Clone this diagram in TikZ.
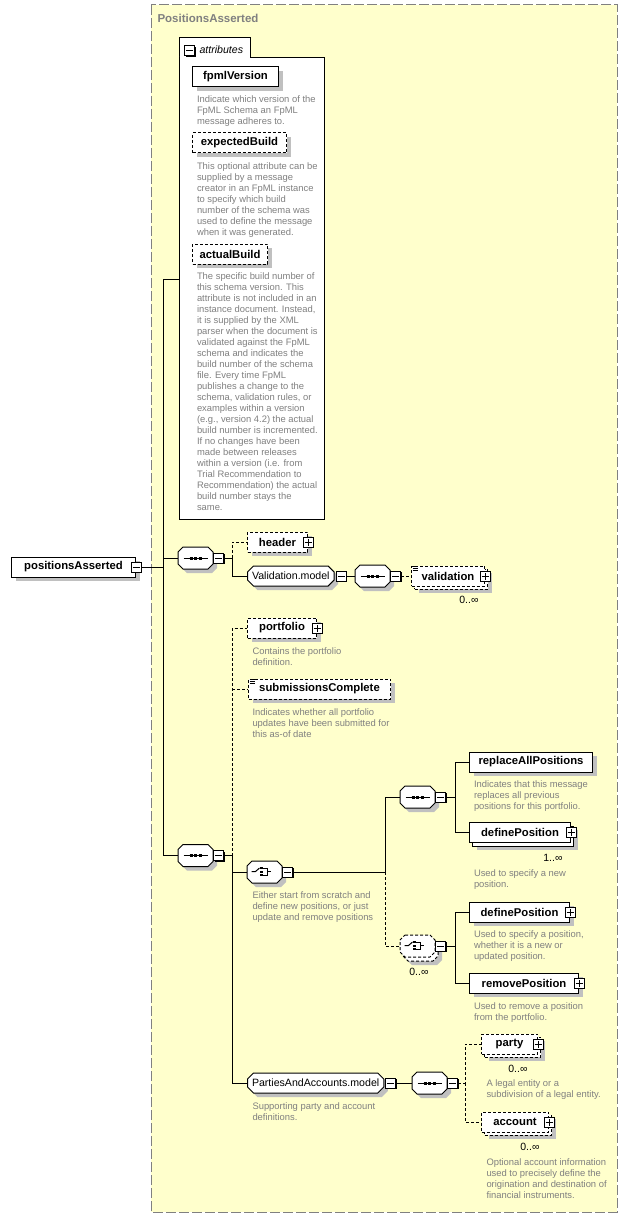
\documentclass[tikz,border=0pt]{standalone}
\usepackage{fontspec}
\setmainfont{Liberation Sans}
\usetikzlibrary{positioning,shadows,shapes.misc}
\definecolor{schemaYellow}{RGB}{255,255,204}
\definecolor{shadowGray}{RGB}{192,192,192}
\definecolor{descGray}{RGB}{128,128,128}
\newcommand\nameFont{\fontsize{11.3}{13}\selectfont\bfseries}
\newcommand\groupFont{\fontsize{10.6}{13}\selectfont}
\newcommand\descFont{\fontsize{9.4}{11}\selectfont}
\newcommand\multFont{\fontsize{10.5}{12}\selectfont}
\tikzset{
  shadowed/.style={drop shadow={shadow xshift=4pt, shadow yshift=-4pt, fill=shadowGray, opacity=1}},
  elem/.style={rectangle, draw, fill=white, minimum height=20, inner sep=0, anchor=west, font=\nameFont},
  optElem/.style={elem, dash pattern=on 3pt off 2pt},
  groupBox/.style={chamfered rectangle, chamfered rectangle xsep=3pt, chamfered rectangle ysep=3pt,
      draw, fill=white, minimum width=0, minimum height=0, inner xsep=1.5pt, inner ysep=3pt,
      text height=7.5pt, text depth=0.5pt, anchor=west, font=\groupFont},
  compositor/.style={rectangle, minimum width=34, minimum height=21, inner sep=0, anchor=west},
  octagonPath/.style={insert path={([xshift=5pt]#1.north west) -- ([xshift=-5pt]#1.north east)
      -- ([yshift=-5pt]#1.north east) -- ([yshift=5pt]#1.south east) -- ([xshift=-5pt]#1.south east)
      -- ([xshift=5pt]#1.south west) -- ([yshift=5pt]#1.south west) -- ([yshift=-5pt]#1.north west) -- cycle}},
  iconBox/.style={rectangle, draw, fill=white, minimum size=10, inner sep=0,
      drop shadow={shadow xshift=1.2pt, shadow yshift=-1.2pt, fill=black, opacity=1}},
  minusIcon/.style={iconBox, path picture={
      \draw ([xshift=-3.5pt]path picture bounding box.center) -- ([xshift=3.5pt]path picture bounding box.center);}},
  plusIcon/.style={iconBox, path picture={
      \draw ([xshift=-3.5pt]path picture bounding box.center) -- ([xshift=3.5pt]path picture bounding box.center);
      \draw ([yshift=-3.5pt]path picture bounding box.center) -- ([yshift=3.5pt]path picture bounding box.center);}},
  desc/.style={anchor=north west, inner sep=0, align=left, font=\descFont, text=descGray},
  mult/.style={anchor=base east, inner sep=0, font=\multFont},
  edge/.style={draw},
  optEdge/.style={draw, dash pattern=on 3pt off 2pt}
}
\begin{document}
\begin{tikzpicture}[x=1pt, y=-1pt, line width=1pt]
  \fill[white] (0,0) rectangle (628,1217);
  \useasboundingbox (0,0) rectangle (628,1217);
  \draw[descGray, fill=schemaYellow, dash pattern=on 10pt off 3pt] (151,5) rectangle (617,1212);
  \node[anchor=base west, inner sep=0, text=descGray, font=\fontsize{11.5}{13}\selectfont\bfseries] (typeName) at (157,23) {PositionsAsserted};

  % attributes
  \node[rectangle, draw, fill=white, inner sep=0, anchor=north west, minimum width=145, minimum height=462] (attrBox) at (179,57) {};
  \node[rectangle, draw, fill=white, inner sep=0, anchor=south west, minimum width=71, minimum height=19] (attrTab) at (attrBox.north west) {};
  \draw[white, line width=1.4pt] ([xshift=0.6pt]attrTab.south west) -- ([xshift=-0.6pt]attrTab.south east);
  \node[minusIcon] (attrM) at (189.5,50.5) {};
  \node[anchor=base west, inner sep=0, font=\fontsize{10.6}{13}\selectfont\itshape] (attrLabel) at (199,53.5) {attributes};
  \node[elem, shadowed, minimum width=86] (fpmlVersion) at (192,77) {fpmlVersion};
  \node[desc] (fpmlVersionDesc) at (196.5,95) {Indicate which version of the\\FpML Schema an FpML\\message adheres to.};
  \node[optElem, shadowed, minimum width=94] (expectedBuild) at (192,143) {expectedBuild};
  \node[desc] (expectedBuildDesc) at (196.5,162) {This optional attribute can be\\supplied by a message\\creator in an FpML instance\\to specify which build\\number of the schema was\\used to define the message\\when it was generated.};
  \node[optElem, shadowed, minimum width=75] (actualBuild) at (192,254) {actualBuild};
  \node[desc] (actualBuildDesc) at (196.5,272.5) {The specific build number of\\this schema version. This\\attribute is not included in an\\instance document. Instead,\\it is supplied by the XML\\parser when the document is\\validated against the FpML\\schema and indicates the\\build number of the schema\\file. Every time FpML\\publishes a change to the\\schema, validation rules, or\\examples within a version\\(e.g., version 4.2) the actual\\build number is incremented.\\If no changes have been\\made between releases\\within a version (i.e. from\\Trial Recommendation to\\Recommendation) the actual\\build number stays the\\same.};

  % compositors
  \node[compositor] (seqTop) at (178,558) {};
  \node[compositor] (seqValidation) at (355,576) {};
  \node[compositor] (seqMain) at (178,855.5) {};
  \node[compositor] (seqReplace) at (400,797) {};
  \node[compositor] (seqParties) at (412,1083) {};
  \node[compositor] (choicePositions) at (247,872) {};
  \node[compositor] (choiceUpdateBack) at (403,950) {};
  \node[compositor] (choiceUpdate) at (400,946) {};
  \draw[fill=white, shadowed, optEdge, octagonPath=choiceUpdateBack];
  \draw[fill=white, optEdge, octagonPath=choiceUpdate];
  \draw[fill=white, shadowed, octagonPath=choicePositions];
  \foreach \c in {seqTop,seqValidation,seqMain,seqReplace,seqParties}{
    \draw[fill=white, shadowed, octagonPath=\c];
    \draw ([xshift=-12pt]\c.center) -- ([xshift=12pt]\c.center);
    \foreach \dx in {-4.5pt,0pt,4.5pt}
      \draw[line width=3pt] ([xshift=\dx-1.5pt]\c.center) -- ([xshift=\dx+1.5pt]\c.center);
  }
  \foreach \c in {choicePositions,choiceUpdate}{
    \draw ([xshift=-13pt, yshift=0.5pt]\c.center) -- ++(4pt,0) -- ++(4pt,3.5pt);
    \foreach \dy in {4pt,0.5pt,-3pt}
      \draw[line width=2pt] ([xshift=-4.5pt, yshift=\dy]\c.center) -- ++(3pt,0);
    \draw ([xshift=-1.5pt, yshift=4pt]\c.center) -- ++(4pt,0) -- ++(0,-7pt) -- ++(-4pt,0);
    \draw ([xshift=2.5pt, yshift=0.5pt]\c.center) -- ++(3.5pt,0);
  }
  \foreach \c in {seqTop,seqValidation,seqMain,seqReplace,seqParties,choicePositions,choiceUpdate}
    \node[minusIcon, anchor=west] (\c M) at (\c.east) {};

  % root and first sequence
  \node[elem, shadowed, minimum width=124] (positionsAsserted) at (11,567) {positionsAsserted};
  \node[minusIcon] (positionsAssertedM) at (positionsAsserted.east) {};
  \node[optElem, shadowed, minimum width=60] (header) at (247,542) {header};
  \node[plusIcon] (headerP) at (header.east) {};
  \node[groupBox, shadowed] (validationModel) at (247,576) {Validation.model};
  \node[minusIcon, anchor=west] (validationModelM) at ([xshift=1pt]validationModel.east) {};
  \node[optElem, shadowed, minimum width=73] (validationBack) at (414,579) {};
  \node[optElem, minimum width=73] (validation) at (411,576) {validation};
  \node[plusIcon] (validationP) at (validation.east) {};
  \node[mult] (validationMult) at (479,603) {0..∞};
  \foreach \dy in {1pt,3pt,5pt}
    \draw[line width=0.8pt] ([xshift=1.5pt, yshift=-\dy]validation.north west) -- ++(5pt,0);

  % second sequence
  \node[optElem, shadowed, minimum width=69] (portfolio) at (247,628) {portfolio};
  \node[plusIcon] (portfolioP) at (portfolio.east) {};
  \node[desc] (portfolioDesc) at (252,647.5) {Contains the portfolio\\definition.};
  \node[optElem, shadowed, minimum width=142] (submissionsComplete) at (248,689) {submissionsComplete};
  \node[desc] (submissionsCompleteDesc) at (252,708.5) {Indicates whether all portfolio\\updates have been submitted for\\this as-of date};
  \foreach \dy in {1pt,3pt,5pt}
    \draw[line width=0.8pt] ([xshift=1.5pt, yshift=-\dy]submissionsComplete.north west) -- ++(5pt,0);

  \node[desc] (choicePositionsDesc) at (252,891.5) {Either start from scratch and\\define new positions, or just\\update and remove positions};
  \node[elem, shadowed, minimum width=123] (replaceAllPositions) at (469,762) {replaceAllPositions};
  \node[desc] (replaceAllPositionsDesc) at (473.5,780.5) {Indicates that this message\\replaces all previous\\positions for this portfolio.};
  \node[elem, shadowed, minimum width=101] (defineNewBack) at (472,836) {};
  \node[elem, minimum width=101] (defineNew) at (469,832) {definePosition};
  \node[plusIcon] (defineNewP) at (defineNew.east) {};
  \node[mult] (defineNewMult) at (563,861) {1..∞};
  \node[desc] (defineNewDesc) at (473.5,869.5) {Used to specify a new\\position.};

  \node[mult] (choiceUpdateMult) at (429,975) {0..∞};
  \node[elem, shadowed, minimum width=100] (definePosition) at (469,912) {definePosition};
  \node[plusIcon] (definePositionP) at (definePosition.east) {};
  \node[desc] (definePositionDesc) at (473.5,930.5) {Used to specify a position,\\whether it is a new or\\updated position.};
  \node[elem, shadowed, minimum width=109] (removePosition) at (469,983) {removePosition};
  \node[plusIcon] (removePositionP) at (removePosition.east) {};
  \node[desc] (removePositionDesc) at (473.5,1002.5) {Used to remove a position\\from the portfolio.};

  \node[groupBox, shadowed] (partiesModel) at (247,1083) {PartiesAndAccounts.model};
  \node[minusIcon, anchor=west] (partiesModelM) at ([xshift=1pt]partiesModel.east) {};
  \node[desc] (partiesModelDesc) at (252,1102.5) {Supporting party and account\\definitions.};
  \node[optElem, shadowed, minimum width=56] (partyBack) at (484,1047) {};
  \node[optElem, minimum width=56] (party) at (481,1044) {party};
  \node[plusIcon] (partyP) at (party.east) {};
  \node[mult] (partyMult) at (528,1072) {0..∞};
  \node[desc] (partyDesc) at (486,1079.5) {A legal entity or a\\subdivision of a legal entity.};
  \node[optElem, shadowed, minimum width=67] (accountBack) at (484,1125) {};
  \node[optElem, minimum width=67] (account) at (481,1122) {account};
  \node[plusIcon] (accountP) at (account.east) {};
  \node[mult] (accountMult) at (540,1150) {0..∞};
  \node[desc] (accountDesc) at (486,1158.5) {Optional account information\\used to precisely define the\\origination and destination of\\financial instruments.};

  % connectors
  \coordinate (busTop) at (163,279);
  \coordinate (busBottom) at (163,855.5);
  \coordinate (busHeader) at (232,558);
  \coordinate (busMain) at (232,855.5);
  \coordinate (busChoice) at (385,872);
  \coordinate (busReplace) at (455,797);
  \coordinate (busUpdate) at (455,946);
  \coordinate (busParties) at (465,1083);
  \draw[edge] (positionsAssertedM.east) -- (positionsAssertedM.east -| busTop);
  \draw[edge] (attrBox.west |- busTop) -- (busTop) -- (busBottom) -- (seqMain.west);
  \draw[edge] (seqTop.west -| busTop) -- (seqTop.west);
  \draw[edge] (seqTopM.east) -- (busHeader) |- (validationModel.west);
  \draw[optEdge] (busHeader) |- (header.west);
  \draw[edge] (validationModelM.east) -- (seqValidation.west);
  \draw[optEdge] (seqValidationM.east) -- (validation.west);
  \draw[edge] (seqMainM.east) -- (busMain) |- (partiesModel.west);
  \draw[optEdge] (busMain) |- (portfolio.west);
  \draw[optEdge] (submissionsComplete.west -| busMain) -- (submissionsComplete.west);
  \draw[edge] (choicePositions.west -| busMain) -- (choicePositions.west);
  \draw[edge] (choicePositionsM.east) -- (busChoice) |- (seqReplace.west);
  \draw[optEdge] (busChoice) |- (choiceUpdate.west);
  \draw[edge] (seqReplaceM.east) -- (busReplace) |- (replaceAllPositions.west);
  \draw[edge] (busReplace) |- (defineNew.west);
  \draw[edge] (choiceUpdateM.east) -- (busUpdate) |- (definePosition.west);
  \draw[edge] (busUpdate) |- (removePosition.west);
  \draw[edge] (partiesModelM.east) -- (seqParties.west);
  \draw[optEdge] (seqPartiesM.east) -- (busParties) |- (party.west);
  \draw[optEdge] (busParties) |- (account.west);
\end{tikzpicture}
\end{document}
